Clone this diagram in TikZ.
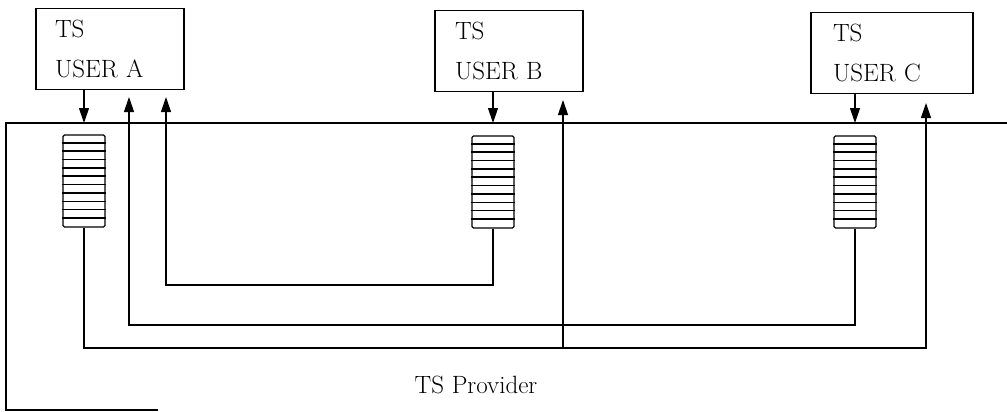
\documentclass[tikz,border=0pt]{standalone}
\usepackage{tikz}
\usetikzlibrary{arrows.meta}

\begin{document}
\begin{tikzpicture}[x=1pt,y=-1pt,line width=1.2pt,
                    >={Triangle[length=15pt,width=10pt]},
                    every node/.style={font=\fontsize{25}{40}\selectfont}]
  \tikzstyle{user}=[draw,rectangle,align=left,inner sep=0pt,minimum height=81pt]
  \tikzstyle{queue}=[draw,rectangle,rounded corners=1.5pt,minimum width=42pt,
                     minimum height=92pt,inner sep=0pt]
  \useasboundingbox (0,0) rectangle (1007,412);

  % TS users
  \node[user,text width=110pt,minimum width=148pt] (userA) at (110,49) {TS\\USER A};
  \node[user,text width=108pt,minimum width=148pt] (userB) at (509,51) {TS\\USER B};
  \node[user,text width=118pt,minimum width=162pt] (userC) at (892,53) {TS\\USER C};

  % queues
  \node[queue] (qA) at (84,181) {};
  \node[queue] (qB) at (493,182) {};
  \node[queue] (qC) at (855,182) {};
  \foreach \q in {qA,qB,qC}
    \foreach \i in {1,...,10}
      \draw[line width=1.5pt] ([yshift=-\i*8.36]\q.north west) -- ([yshift=-\i*8.36]\q.north east);

  % provider frame
  \coordinate (ptop) at (6,123);
  \draw (1007,123) -- (ptop) -- (6,410) -- (158,410);
  \node (prov) at (476,385) {TS Provider};

  % down arrows into the queues
  \foreach \u/\q in {userA/qA,userB/qB,userC/qC}
    \draw[->] (\u.south -| \q.north) -- (\q.north |- ptop);

  % up arrow tips
  \coordinate (tA1) at (129,97);
  \coordinate (tA2) at (166,97);
  \coordinate (tB)  at (563,100);
  \coordinate (tC)  at (926,103);

  % connections through the provider
  \coordinate (loopI) at (166,285);
  \coordinate (loopM) at (129,325);
  \coordinate (loopO) at (926,348);
  \draw[->] (qB.south) |- (loopI) -- (tA2);
  \draw[->] (qC.south) |- (loopM) -- (tA1);
  \draw[->] (qA.south) |- (loopO) -- (tC);
  \draw[->] (tB |- loopO) -- (tB);
\end{tikzpicture}
\end{document}
